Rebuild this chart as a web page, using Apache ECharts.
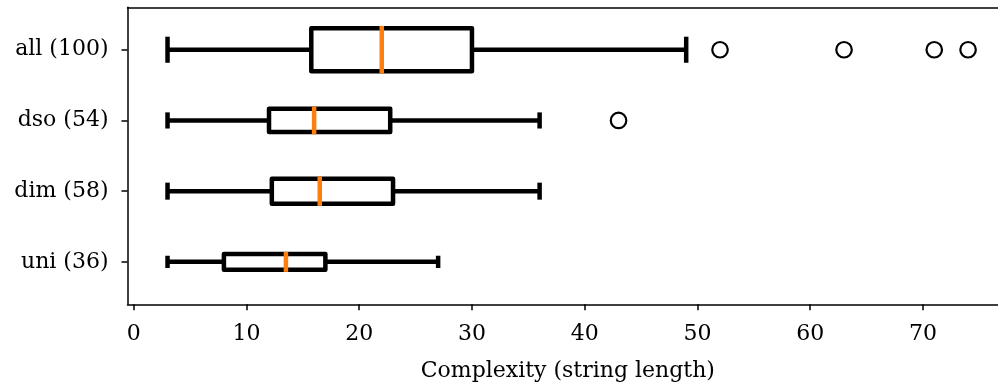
<!DOCTYPE html>
<html>
<head>
<meta charset="utf-8">
<script src="https://cdn.jsdelivr.net/npm/echarts@6/dist/echarts.min.js"></script>
<style>
  html, body { margin: 0; padding: 0; background: #fff; }
  #chart { width: 998px; height: 387px; }
</style>
</head>
<body>
<div id="chart"></div>
<script>
// ---- data ----
const categories = ['all (100)', 'dso (54)', 'dim (58)', 'uni (36)'];
const counts = [100, 54, 58, 36];
const whiskerLow = [3, 3, 3, 3];
const q1 = [15.75, 12, 12.25, 8];
const median = [22, 16, 16.5, 13.5];
const q3 = [30, 22.75, 23, 17];
const whiskerHigh = [49, 36, 36, 27];
const outliersAll = [52, 63, 71, 74];
const outliersDso = [43];
const outliersDim = [];
const outliersUni = [];
const xTicks = [0, 10, 20, 30, 40, 50, 60, 70];
const xTitle = 'Complexity (string length)';

// ---- build ----
const maxCount = Math.max.apply(null, counts);
const boxData = categories.map((c, i) => [i, whiskerLow[i], q1[i], median[i], q3[i], whiskerHigh[i], counts[i]]);
const outlierLists = [outliersAll, outliersDso, outliersDim, outliersUni];
const outlierData = [];
outlierLists.forEach((list, i) => list.forEach(v => outlierData.push([v, i])));
const catTicks = categories.map((c, i) => i);

const FONT = 'DejaVu Serif';
const LW = 4.5;
const spine = { show: true, onZero: false, lineStyle: { color: '#000', width: 1.5 } };

function renderBox(params, api) {
  const cat = api.value(0);
  const lo = api.value(1), a = api.value(2), m = api.value(3), b = api.value(4), hi = api.value(5), n = api.value(6);
  const band = api.size([0, 1])[1];
  const h = band * 0.61 * n / maxCount;
  const pLo = api.coord([lo, cat]);
  const pA = api.coord([a, cat]);
  const pM = api.coord([m, cat]);
  const pB = api.coord([b, cat]);
  const pHi = api.coord([hi, cat]);
  const y = pLo[1];
  const capH = h * 0.5 + LW;
  const black = { stroke: '#000', lineWidth: LW, fill: null };
  return {
    type: 'group',
    children: [
      { type: 'line', shape: { x1: pLo[0], y1: y, x2: pA[0], y2: y }, style: black },
      { type: 'line', shape: { x1: pB[0], y1: y, x2: pHi[0], y2: y }, style: black },
      { type: 'line', shape: { x1: pLo[0], y1: y - capH / 2, x2: pLo[0], y2: y + capH / 2 }, style: black },
      { type: 'line', shape: { x1: pHi[0], y1: y - capH / 2, x2: pHi[0], y2: y + capH / 2 }, style: black },
      { type: 'rect', shape: { x: pA[0], y: y - h / 2, width: pB[0] - pA[0], height: h },
        style: { stroke: '#000', lineWidth: LW, fill: '#fff', lineJoin: 'round' } },
      { type: 'line', shape: { x1: pM[0], y1: y - h / 2 - LW / 2, x2: pM[0], y2: y + h / 2 + LW / 2 },
        style: { stroke: '#ff7f0e', lineWidth: LW, fill: null } }
    ]
  };
}

const chart = echarts.init(document.getElementById('chart'), null, { renderer: 'canvas' });
chart.setOption({
  animation: false,
  backgroundColor: '#fff',
  grid: {
    left: 127.5, top: 7.3, width: 880.6, height: 297,
    outerBoundsMode: 'none', containLabel: false,
    show: false
  },
  xAxis: [
    {
      type: 'value', min: -0.55, max: 77.55, position: 'bottom',
      axisLine: spine,
      splitLine: { show: false },
      axisTick: { show: true, customValues: xTicks, length: 6, lineStyle: { color: '#000', width: 1.5 } },
      axisLabel: { customValues: xTicks, color: '#000', fontFamily: FONT, fontSize: 22, margin: 19 },
      name: xTitle, nameLocation: 'middle', nameGap: 56,
      nameTextStyle: { color: '#000', fontFamily: FONT, fontSize: 22 }
    },
    {
      type: 'value', min: -0.55, max: 77.55, position: 'top',
      axisLine: spine,
      splitLine: { show: false },
      axisTick: { show: false },
      axisLabel: { show: false }
    }
  ],
  yAxis: {
    type: 'value', inverse: true, min: -0.6, max: 3.6, position: 'left',
    axisLine: spine,
    splitLine: { show: false },
    axisTick: { show: true, customValues: catTicks, length: 6, lineStyle: { color: '#000', width: 1.5 } },
    axisLabel: {
      customValues: catTicks, color: '#000', fontFamily: FONT, fontSize: 22, margin: 19,
      formatter: v => categories[Math.round(v)]
    }
  },
  series: [
    {
      type: 'custom',
      renderItem: renderBox,
      data: boxData,
      encode: { x: [1, 2, 3, 4, 5], y: 0 },
      clip: false,
      z: 2
    },
    {
      type: 'scatter',
      data: outlierData,
      symbol: 'circle',
      symbolSize: 15.5,
      itemStyle: { color: 'rgba(255,255,255,0)', borderColor: '#000', borderWidth: 2.2, opacity: 1 },
      z: 3
    }
  ]
});
</script>
</body>
</html>
